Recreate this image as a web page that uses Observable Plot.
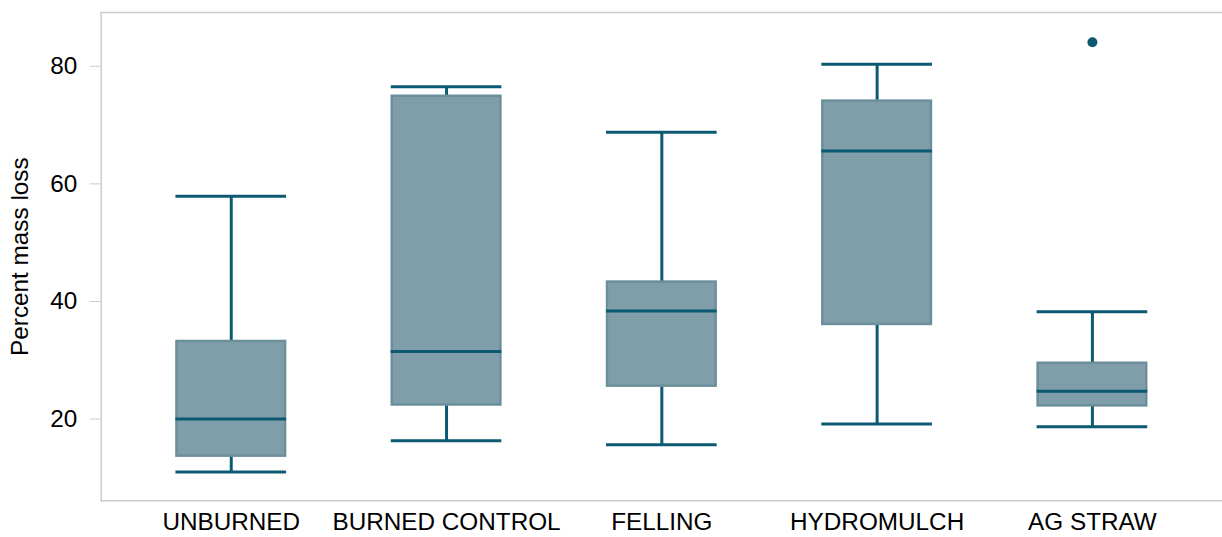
<!DOCTYPE html>
<html>
<head>
<meta charset="utf-8">
<script src="https://cdn.jsdelivr.net/npm/d3@7"></script>
<script src="https://cdn.jsdelivr.net/npm/@observablehq/plot@0.6"></script>
<style>
  html, body { margin: 0; padding: 0; background: #fff; overflow: hidden; }
  #chart svg { display: block; }
</style>
</head>
<body>
<div id="chart"></div>
<script>
const categories = ["UNBURNED", "BURNED CONTROL", "FELLING", "HYDROMULCH", "AG STRAW"];
const lowerWhisker = [11.0, 16.3, 15.65, 19.15, 18.7];
const q1 = [13.7, 22.4, 25.6, 36.1, 22.25];
const median = [20.0, 31.5, 38.4, 65.6, 24.75];
const q3 = [33.2, 74.9, 43.3, 74.07, 29.5];
const upperWhisker = [57.9, 76.5, 68.8, 80.34, 38.25];
const outlierCategories = ["AG STRAW"];
const outlierValues = [84.07];
const yTicks = [20, 40, 60, 80];

const boxes = categories.map((c, i) => ({
  cat: c, lo: lowerWhisker[i], q1: q1[i], med: median[i], q3: q3[i], hi: upperWhisker[i]
}));
const outliers = outlierCategories.map((c, i) => ({cat: c, value: outlierValues[i]}));

const lineColor = "#0b5a72";
const frameColor = "#cccccc";

const chart = Plot.plot({
  width: 1226,
  height: 537,
  marginLeft: 101,
  marginRight: 0,
  marginTop: 12,
  marginBottom: 35,
  style: {fontSize: "24.4px", fontFamily: "'Liberation Sans', Arial, sans-serif", color: "black", background: "white"},
  x: {domain: categories, paddingInner: 0.486, paddingOuter: 0.347, label: null},
  y: {domain: [6.1, 89.15], label: null},
  marks: [
    Plot.frame({anchor: "left", stroke: frameColor, strokeWidth: 1.5}),
    Plot.frame({anchor: "top", stroke: frameColor, strokeWidth: 1.5}),
    Plot.frame({anchor: "bottom", stroke: frameColor, strokeWidth: 1.5}),
    Plot.axisY({ticks: yTicks, tickSize: 11, tickPadding: 13, stroke: frameColor, fill: "black",
      label: "Percent mass loss", labelAnchor: "center", labelArrow: "none", labelOffset: 91}),
    Plot.axisX({tickSize: 0, tickPadding: 12, fill: "black", label: null}),
    Plot.ruleX(boxes, {x: "cat", y1: "q3", y2: "hi", stroke: lineColor, strokeWidth: 3}),
    Plot.ruleX(boxes, {x: "cat", y1: "lo", y2: "q1", stroke: lineColor, strokeWidth: 3}),
    Plot.barY(boxes, {x: "cat", y1: "q1", y2: "q3", fill: "#809ea9", stroke: "#6b8f9b", strokeWidth: 2.5, insetLeft: 1, insetRight: 1}),
    Plot.tickY(boxes, {x: "cat", y: "med", stroke: lineColor, strokeWidth: 3}),
    Plot.tickY(boxes, {x: "cat", y: "hi", stroke: lineColor, strokeWidth: 3}),
    Plot.tickY(boxes, {x: "cat", y: "lo", stroke: lineColor, strokeWidth: 3}),
    Plot.dot(outliers, {x: "cat", y: "value", r: 5, fill: lineColor, stroke: "none"})
  ]
});
document.getElementById("chart").appendChild(chart);
</script>
</body>
</html>
